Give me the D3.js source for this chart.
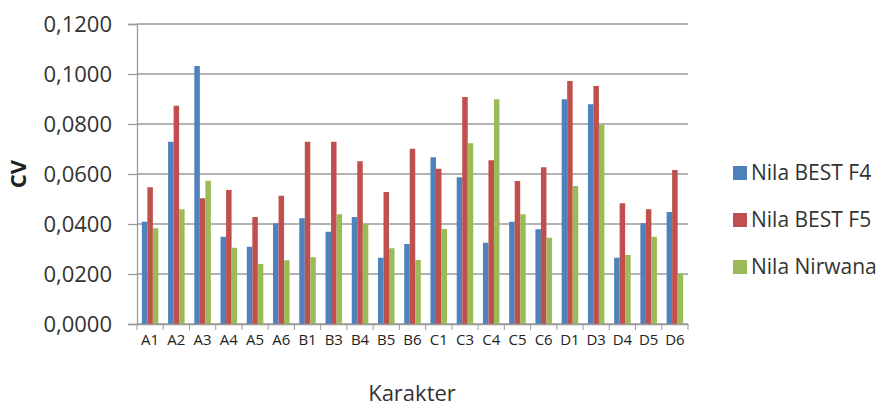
<!DOCTYPE html>
<html>
<head>
<meta charset="utf-8">
<script src="https://cdn.jsdelivr.net/npm/d3@7"></script>
<style>
body{margin:0;background:#fff;}
svg{display:block;font-family:"Open Sans",sans-serif;}
</style>
</head>
<body>
<div id="wrapper"></div>
<script>
const categories = ["A1","A2","A3","A4","A5","A6","B1","B3","B4","B5","B6","C1","C3","C4","C5","C6","D1","D3","D4","D5","D6"];
const seriesNames = ["Nila BEST F4","Nila BEST F5","Nila Nirwana"];
const bestF4 = [0.0409,0.0729,0.1032,0.0349,0.0309,0.0403,0.0423,0.0369,0.0428,0.0265,0.0320,0.0667,0.0587,0.0325,0.0409,0.0379,0.0899,0.0879,0.0265,0.0403,0.0448];
const bestF5 = [0.0547,0.0873,0.0503,0.0536,0.0428,0.0513,0.0729,0.0729,0.0651,0.0528,0.0701,0.0621,0.0908,0.0655,0.0572,0.0627,0.0972,0.0952,0.0483,0.0459,0.0616];
const nirwana = [0.0383,0.0459,0.0573,0.0305,0.0240,0.0255,0.0267,0.0439,0.0400,0.0303,0.0256,0.0380,0.0723,0.0899,0.0439,0.0345,0.0552,0.0796,0.0276,0.0349,0.0200];
const yTicks = [0,0.02,0.04,0.06,0.08,0.10,0.12];
const colors = ["#4F81BD","#C0504D","#9BBB59"];

// Dimension
const dimension = {width:886,height:406,
  margin:{top:24,bottom:82,left:137,right:198}};
dimension.boundedWidth = dimension.width-dimension.margin.left-dimension.margin.right;
dimension.boundedHeight = dimension.height-dimension.margin.top-dimension.margin.bottom;

const allSeries = [bestF4,bestF5,nirwana];
const data = categories.map((c,i)=>({cat:c,values:allSeries.map(s=>s[i])}));

// Scales
const xScale = d3.scaleBand().domain(categories).range([0,dimension.boundedWidth]).paddingInner(0.37).paddingOuter(0.185);
const xInner = d3.scaleBand().domain(d3.range(3)).range([0,xScale.bandwidth()]);
const yScale = d3.scaleLinear().domain([0,0.12]).range([dimension.boundedHeight,0]);

const wrapper = d3.select("#wrapper").append("svg")
  .attr("width",dimension.width).attr("height",dimension.height);
const bounded = wrapper.append("g")
  .attr("transform",`translate(${dimension.margin.left},${dimension.margin.top})`);

// grid
bounded.append("g").selectAll("line").data(yTicks).join("line")
  .attr("x1",0).attr("x2",dimension.boundedWidth)
  .attr("y1",d=>yScale(d)).attr("y2",d=>yScale(d))
  .attr("stroke","#9a9a9a").attr("stroke-width",1.3);

// y axis
const yAxis = bounded.append("g")
  .call(d3.axisLeft(yScale).tickValues(yTicks).tickSize(9).tickPadding(16)
    .tickFormat(d=>d3.format(".4f")(d).replace(".",",")))
  .attr("font-family","Open Sans");
yAxis.select(".domain").attr("stroke","#9a9a9a").attr("stroke-width",1.3);
yAxis.selectAll(".tick line").attr("stroke","#9a9a9a").attr("stroke-width",1.3);
yAxis.selectAll("text").attr("font-size","22px").attr("fill","#333");

// bars
const groups = bounded.selectAll(".grp").data(data).join("g")
  .attr("class","grp").attr("transform",d=>`translate(${xScale(d.cat)},0)`);
groups.selectAll("rect").data(d=>d.values).join("rect")
  .attr("x",(d,i)=>xInner(i)).attr("width",xInner.bandwidth())
  .attr("y",d=>yScale(d)).attr("height",d=>dimension.boundedHeight-yScale(d))
  .attr("fill",(d,i)=>colors[i]);

// x axis
const xAxis = bounded.append("g")
  .attr("transform",`translate(0,${dimension.boundedHeight})`)
  .call(d3.axisBottom(xScale).tickSize(0).tickPadding(10))
  .attr("font-family","Open Sans");
xAxis.select(".domain").attr("stroke","#9a9a9a").attr("stroke-width",1.3);
xAxis.selectAll("text").attr("font-size","15px").attr("fill","#222");
const step = xScale.step();
xAxis.append("g").selectAll("line").data(d3.range(categories.length+1)).join("line")
  .attr("x1",i=>i*step).attr("x2",i=>i*step).attr("y1",0).attr("y2",6)
  .attr("stroke","#9a9a9a");

// axis titles
wrapper.append("text")
  .attr("transform",`translate(26,${dimension.margin.top+yScale(0.06)}) rotate(-90)`)
  .attr("text-anchor","middle").attr("font-size","22px").attr("font-weight","bold")
  .attr("fill","#222").text("CV");
wrapper.append("text")
  .attr("x",412).attr("y",401).attr("text-anchor","middle")
  .attr("font-size","22px").attr("fill","#333").text("Karakter");

// legend
const legend = wrapper.append("g").attr("transform","translate(733,173)");
const items = legend.selectAll("g").data(seriesNames).join("g")
  .attr("transform",(d,i)=>`translate(0,${i*47})`);
items.append("rect").attr("x",0).attr("y",-7).attr("width",14).attr("height",14)
  .attr("fill",(d,i)=>colors[i]);
items.append("text").attr("x",18).attr("y",0).attr("dy","0.35em")
  .attr("font-size","21px").attr("fill","#333").text(d=>d);
</script>
</body>
</html>
